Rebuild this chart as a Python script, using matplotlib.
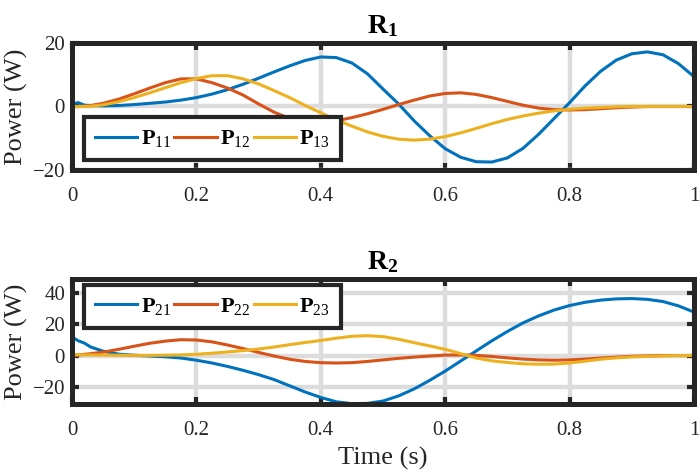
import matplotlib
matplotlib.use("Agg")
import matplotlib.pyplot as plt
import numpy as np

# time axis (s)
t = [0, 0.01, 0.02, 0.03, 0.05, 0.075, 0.1, 0.125, 0.15, 0.175, 0.2, 0.225, 0.25,
     0.275, 0.3, 0.325, 0.35, 0.375, 0.4, 0.425, 0.45, 0.475, 0.5, 0.525, 0.55,
     0.575, 0.6, 0.625, 0.65, 0.675, 0.7, 0.725, 0.75, 0.775, 0.8, 0.825, 0.85,
     0.875, 0.9, 0.925, 0.95, 0.975, 1.0]

# R1 powers (W)
p11 = [0.8, 1.2, 0.4, 0.3, 0.2, 0.3, 0.6, 1.0, 1.4, 2.0, 2.8, 3.9, 5.3,
       7.0, 8.9, 10.9, 12.8, 14.5, 15.6, 15.4, 13.7, 10.3, 5.5, 0.8, -4.5,
       -9.2, -13.3, -16.0, -17.4, -17.5, -16.2, -13.2, -8.8, -3.8, 1.2, 6.5, 11.1,
       14.6, 16.6, 17.2, 16.3, 13.5, 9.4]
p12 = [0, 0, 0.1, 0.3, 1.0, 2.3, 4.0, 5.8, 7.5, 8.7, 8.7, 7.5, 5.8,
       3.6, 0.8, -1.8, -3.8, -4.8, -5.0, -4.5, -3.5, -2.3, -0.9, 0.6, 2.0,
       3.3, 4.1, 4.3, 3.8, 2.8, 1.6, 0.4, -0.5, -1.0, -1.1, -1.0, -0.7,
       -0.4, -0.2, 0, 0, 0, 0]
p13 = [0, 0, 0, 0.1, 0.5, 1.5, 2.8, 4.3, 5.9, 7.5, 8.8, 9.7, 9.7,
       8.7, 7.1, 5.0, 2.8, 0.3, -2.0, -4.2, -6.2, -8.0, -9.4, -10.3, -10.6,
       -10.3, -9.5, -8.3, -6.9, -5.4, -4.1, -3.0, -2.1, -1.4, -0.9, -0.5, -0.3,
       -0.1, 0, 0, 0, 0, 0]

# R2 powers (W)
p21 = [12.0, 9.5, 8.0, 5.5, 2.8, 0.9, 0.2, -0.3, -0.8, -1.6, -3.0, -4.8, -7.0,
       -9.5, -12.3, -15.5, -19.5, -23.5, -27.0, -29.8, -31.0, -30.8, -29.3, -26.0, -21.5,
       -16.0, -10.0, -3.5, 3.0, 9.5, 15.5, 21.0, 25.5, 29.3, 32.2, 34.3, 35.7,
       36.5, 36.7, 36.2, 34.8, 32.0, 28.0]
p22 = [0, 0.3, 0.8, 1.2, 2.2, 4.0, 6.0, 7.9, 9.3, 10.2, 10.0, 8.8, 6.8,
       4.5, 2.0, -0.3, -2.4, -3.8, -4.6, -4.8, -4.6, -3.8, -2.8, -1.8, -1.0,
       -0.3, 0.3, 0.4, 0.1, -0.6, -1.5, -2.3, -2.8, -3.0, -2.8, -2.3, -1.6,
       -1.0, -0.5, -0.2, 0, 0, 0]
p23 = [0.5, 0.5, 0.4, 0.4, 0.3, 0.2, 0.1, 0.1, 0.2, 0.4, 0.8, 1.5, 2.3,
       3.2, 4.2, 5.5, 7.0, 8.4, 9.7, 11.2, 12.4, 12.8, 12.2, 10.5, 8.3,
       6.2, 4.0, 1.2, -1.6, -3.4, -4.5, -5.3, -5.6, -5.5, -4.8, -3.6, -2.4,
       -1.5, -0.9, -0.5, -0.2, 0, 0]

xticks = [0, 0.2, 0.4, 0.6, 0.8, 1.0]
xlabels = ["0", "0.2", "0.4", "0.6", "0.8", "1"]
yticks_1 = [-20, 0, 20]
yticks_2 = [-20, 0, 20, 40]

colors = ["#0072BD", "#D95319", "#EDB120"]

plt.rcParams["font.family"] = ["Liberation Serif", "DejaVu Serif"]
plt.rcParams["mathtext.fontset"] = "custom"
plt.rcParams["mathtext.rm"] = "Liberation Serif"
plt.rcParams["mathtext.it"] = "Liberation Serif:italic"
plt.rcParams["mathtext.bf"] = "Liberation Serif:bold"

fig = plt.figure(figsize=(7, 4.74), dpi=100)
ax1 = fig.add_axes([0.1029, 0.6414, 0.8885, 0.2679])
ax2 = fig.add_axes([0.1029, 0.1477, 0.8885, 0.2637])

dark = "#262626"


def style(ax, yticks):
    ax.set_xlim(0, 1)
    ax.set_xticks(xticks)
    ax.set_xticklabels(xlabels)
    ax.set_yticks(yticks)
    ax.set_axisbelow(True)
    ax.grid(True, color="#dcdcdc", linewidth=3.2)
    ax.tick_params(direction="in", length=5, width=3, colors=dark,
                   labelsize=15, labelcolor=dark, top=True, right=True)
    ax.tick_params(axis="x", pad=12)
    ax.tick_params(axis="y", pad=5)
    for s in ax.spines.values():
        s.set_linewidth(3.6)
        s.set_color(dark)
        s.set_zorder(5)
    ax.set_ylabel("Power (W)", fontsize=19, color=dark, labelpad=3)


def add_legend(ax, loc, anchor):
    leg = ax.legend(ncol=3, loc=loc, bbox_to_anchor=anchor,
                    borderaxespad=0, fontsize=16, handlelength=1.9,
                    handletextpad=0.15, columnspacing=0.15, borderpad=0.5,
                    fancybox=False, framealpha=1, edgecolor=dark)
    leg.get_frame().set_linewidth(3)
    return leg


ax1.plot(t, p11, color=colors[0], lw=2.2, label=r"$\mathbf{P}_{11}$")
ax1.plot(t, p12, color=colors[1], lw=2.2, label=r"$\mathbf{P}_{12}$")
ax1.plot(t, p13, color=colors[2], lw=2.2, label=r"$\mathbf{P}_{13}$")
ax1.set_ylim(-20, 20)
style(ax1, yticks_1)
ax1.set_title(r"$\mathbf{R}_{\mathbf{1}}$", fontsize=20, color="black", pad=7)
add_legend(ax1, "lower left", (0.019, 0.075))

ax2.plot(t, p21, color=colors[0], lw=2.2, label=r"$\mathbf{P}_{21}$")
ax2.plot(t, p22, color=colors[1], lw=2.2, label=r"$\mathbf{P}_{22}$")
ax2.plot(t, p23, color=colors[2], lw=2.2, label=r"$\mathbf{P}_{23}$")
ax2.set_ylim(-31.2, 49.3)
style(ax2, yticks_2)
ax2.set_title(r"$\mathbf{R}_{\mathbf{2}}$", fontsize=20, color="black", pad=7)
ax2.set_xlabel("Time (s)", fontsize=19, color=dark, labelpad=5)
add_legend(ax2, "upper left", (0.019, 0.952))

fig.savefig("out.png", dpi=100)
